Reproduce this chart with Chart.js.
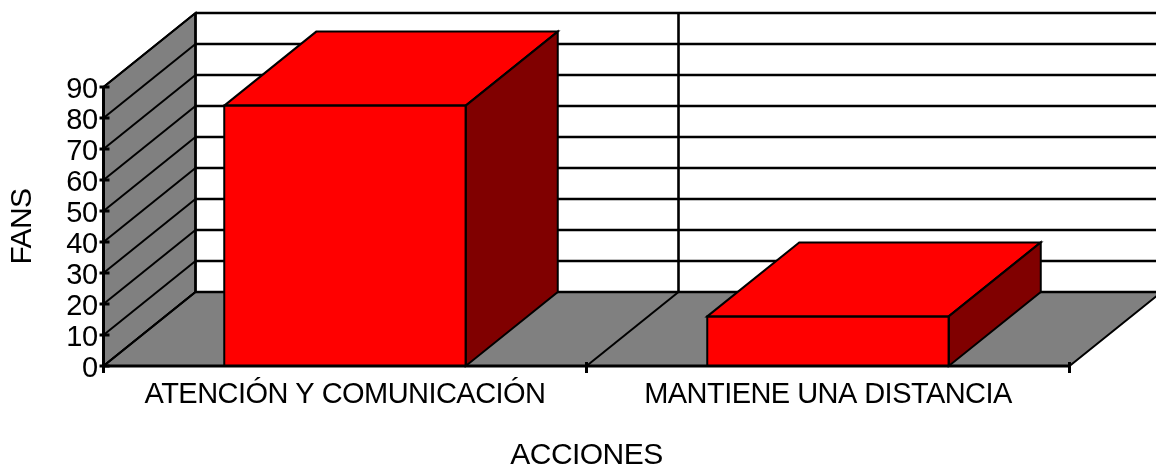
<!DOCTYPE html>
<html><head><meta charset="utf-8">
<style>html,body{margin:0;padding:0;background:#fff}#w{width:1156px;height:467px;position:relative;overflow:hidden}canvas{display:block}</style>
<script src="https://cdn.jsdelivr.net/npm/chart.js@4"></script></head>
<body><div id="w"><canvas id="c" width="1156" height="467"></canvas></div>
<script>
const categories = ['ATENCIÓN Y COMUNICACIÓN', 'MANTIENE UNA DISTANCIA'];
const fans = [84, 16];
const yTicks = [0, 10, 20, 30, 40, 50, 60, 70, 80, 90];
const xTitle = 'ACCIONES';
const yTitle = 'FANS';
const DX = 92, DY = -74;
const RED = '#ff0000', DARK = '#800000', GREY = '#808080';
const FONT = '"Liberation Sans", Arial, sans-serif';

function poly(ctx, pts, fill) {
  ctx.beginPath();
  pts.forEach((p, i) => i ? ctx.lineTo(p[0], p[1]) : ctx.moveTo(p[0], p[1]));
  ctx.closePath();
  if (fill) { ctx.fillStyle = fill; ctx.fill(); }
  ctx.stroke();
}
function seg(ctx, a, b, c, d) { ctx.beginPath(); ctx.moveTo(a, b); ctx.lineTo(c, d); ctx.stroke(); }
const walls = {
  id: 'walls',
  afterLayout(chart) {
    chart.scales.y.getLabelItems(chart.chartArea).forEach(i => { i.textOffset += 3; });
  },
  beforeDraw(chart) { chart.ctx.letterSpacing = '-0.55px'; },
  beforeDatasetsDraw(chart) {
    const { ctx, chartArea: a, scales: { x, y } } = chart;
    ctx.save();
    ctx.strokeStyle = '#000'; ctx.lineWidth = 2; ctx.lineJoin = 'miter';
    const L = a.left, R = a.right, T = a.top, B = a.bottom;
    poly(ctx, [[L, T], [L + DX, T + DY], [L + DX, B + DY], [L, B]], GREY);
    poly(ctx, [[L, B], [L + DX, B + DY], [R + DX, B + DY], [R, B]], GREY);
    yTicks.forEach(v => {
      const py = y.getPixelForValue(v);
      seg(ctx, L, py, L + DX, py + DY);
      ctx.lineWidth = 2.6;
      seg(ctx, L + DX, py + DY, R + DX, py + DY);
      ctx.lineWidth = 2;
    });
    const mid = (x.getPixelForValue(0) + x.getPixelForValue(1)) / 2;
    ctx.lineWidth = 2.6;
    seg(ctx, L + DX, T + DY, L + DX, B + DY);
    seg(ctx, mid + DX, T + DY, mid + DX, B + DY);
    ctx.lineWidth = 2;
    seg(ctx, mid + DX, B + DY, mid, B);
    ctx.restore();
  },
  afterDatasetsDraw(chart) {
    const { ctx, chartArea: a, scales: { x, y } } = chart;
    const bars = chart.getDatasetMeta(0).data;
    ctx.save();
    ctx.strokeStyle = '#000'; ctx.lineWidth = 2; ctx.lineJoin = 'miter';
    bars.forEach(b => {
      const l = b.x - b.width / 2, r = b.x + b.width / 2, t = b.y, bt = b.base;
      poly(ctx, [[l, t], [l + DX, t + DY], [r + DX, t + DY], [r, t]], RED);
      poly(ctx, [[r, t], [r + DX, t + DY], [r + DX, bt + DY], [r, bt]], DARK);
      poly(ctx, [[l, t], [r, t], [r, bt], [l, bt]]);
    });
    const L = a.left, R = a.right, T = a.top, B = a.bottom;
    const mid = (x.getPixelForValue(0) + x.getPixelForValue(1)) / 2;
    ctx.lineWidth = 3;
    seg(ctx, L, T, L, B + 6);
    seg(ctx, L, B, R, B);
    [L, mid, R].forEach(px => seg(ctx, px, B - 4, px, B + 7));
    yTicks.forEach(v => { const py = y.getPixelForValue(v); seg(ctx, L - 4, py, L + 6, py); });
    ctx.restore();
  }
};
new Chart(document.getElementById('c'), {
  type: 'bar',
  data: { labels: categories, datasets: [{ data: fans, backgroundColor: RED, borderWidth: 0, categoryPercentage: 1, barPercentage: 0.5 }] },
  options: {
    responsive: false, animation: false,
    layout: { padding: { top: 87, right: 86.5, left: 0, bottom: 0 } },
    plugins: { legend: { display: false }, tooltip: { enabled: false } },
    scales: {
      x: {
        grid: { display: false }, border: { display: false },
        afterFit(s) { s.height = 101; },
        ticks: { color: '#000', font: { family: FONT, size: 29 }, maxRotation: 0, padding: 4, autoSkip: false },
        title: { display: true, text: xTitle, color: '#000', font: { family: FONT, size: 30 }, padding: { top: 0, bottom: -7 } }
      },
      y: {
        min: 0, max: 90,
        afterFit(s) { s.width = 103.5; },
        grid: { display: false, tickLength: 6 }, border: { display: false },
        afterBuildTicks(s) { s.ticks = yTicks.map(v => ({ value: v })); },
        ticks: { color: '#000', font: { family: FONT, size: 29 }, padding: 0, autoSkip: false },
        title: { display: true, text: yTitle, color: '#000', font: { family: FONT, size: 30 }, padding: { top: 5, bottom: 0 } }
      }
    }
  },
  plugins: [walls]
});
</script></body></html>
